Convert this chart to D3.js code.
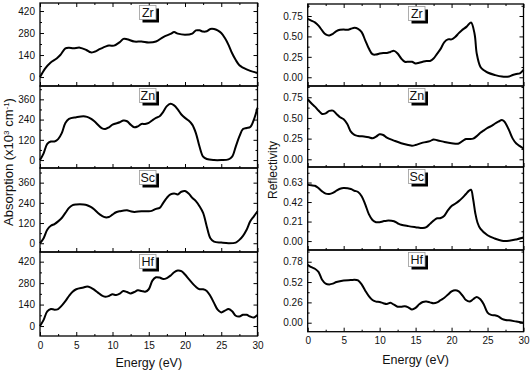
<!DOCTYPE html>
<html>
<head>
<meta charset="utf-8">
<script src="https://cdn.jsdelivr.net/npm/d3@7"></script>
<style>
  body { margin: 0; background: #fff; }
  text { font-family: Arial, "Liberation Sans", sans-serif; fill: #111; }
</style>
</head>
<body>
<svg id="chart" width="531" height="373"></svg>
<script>
// absorption (x10^3 cm^-1) vs energy (eV)
const zrAbs = [[0,0],[0.7,54],[1.4,90],[2.3,118],[2.8,140],[3.5,183],[4,187],[4.6,183],[5.5,187],[6.4,172],[7,157],[7.5,161],[8.3,179],[9.5,200],[10.2,200],[11,222],[11.5,243],[12,241],[13,226],[14,226],[15,220],[16,226],[17,254],[18,274],[18.5,286],[19,276],[20,269],[21,276],[21.5,297],[22,297],[22.5,289],[23,291],[23.5,306],[24,306],[24.5,297],[25,280],[25.5,248],[26,205],[26.5,151],[27,108],[27.5,75],[28,60],[29,39],[30,26]]
const znAbs = [[0,0],[0.5,40],[1,96],[1.5,110],[2,110],[2.5,124],[3,160],[3.5,220],[4,244],[5,254],[6,260],[6.5,256],[7,246],[7.5,230],[8.5,190],[9,184],[9.5,194],[10,210],[11,224],[11.5,234],[12,230],[12.5,210],[13,194],[13.5,200],[14,214],[14.5,214],[15,220],[15.5,236],[16,250],[16.5,260],[17,286],[17.5,320],[18,334],[18.5,324],[19,300],[19.5,270],[20,250],[20.5,234],[21,210],[21.5,160],[22,80],[22.5,20],[23,6],[24,0],[25,0],[26,4],[26.5,20],[27,80],[27.5,140],[28,184],[28.5,190],[29,196],[29.5,240],[30,310]]
const scAbs = [[0,0],[0.5,30],[1,80],[1.5,104],[2,114],[2.5,130],[3,150],[3.5,180],[4,210],[4.5,226],[5,230],[6,230],[6.5,226],[7,216],[7.5,200],[8,180],[8.5,164],[9,154],[9.5,156],[10,170],[10.5,184],[11,190],[12,196],[12.5,190],[13,186],[14,190],[15,190],[15.5,194],[16,204],[16.5,210],[17,240],[17.5,270],[18,290],[18.5,296],[19,290],[19.5,306],[20,310],[20.5,296],[21,270],[21.5,250],[22,220],[22.5,180],[23,100],[23.5,30],[24,10],[25,4],[26,0],[27,4],[27.5,20],[28,44],[28.5,80],[29,130],[29.5,160],[30,190]]
const hfAbs = [[0,0],[0.5,40],[1,96],[1.5,111],[2,107],[2.5,111],[3,133],[3.5,162],[4,196],[4.5,224],[5,240],[6,251],[6.5,258],[7,251],[7.5,236],[8,218],[8.5,200],[9,191],[9.5,196],[10,207],[10.5,202],[11,211],[11.5,229],[12,222],[12.5,213],[13,222],[13.5,233],[14,229],[14.5,224],[15,240],[15.5,296],[16,318],[16.5,316],[17,307],[17.5,313],[18,329],[18.5,351],[19,362],[19.5,358],[20,336],[20.5,307],[21,280],[21.5,256],[22,240],[22.5,240],[23,229],[23.5,196],[24,151],[24.5,107],[25,89],[25.5,100],[26,111],[26.5,96],[27,67],[27.5,62],[28,73],[28.5,73],[29,62],[29.5,56],[30,73]]

// reflectivity vs energy (eV)
const zrRef = [[0,0.714],[0.5,0.694],[1,0.673],[1.5,0.633],[2,0.573],[2.5,0.524],[3,0.512],[3.5,0.532],[4,0.565],[4.5,0.581],[5,0.585],[5.5,0.581],[6,0.593],[6.5,0.605],[7,0.593],[7.5,0.552],[8,0.452],[8.5,0.351],[9,0.282],[9.5,0.278],[10,0.29],[10.5,0.298],[11,0.298],[11.5,0.31],[12,0.323],[12.5,0.29],[13,0.23],[13.5,0.19],[14,0.19],[14.5,0.19],[15,0.169],[15.5,0.177],[16,0.19],[16.5,0.2],[17,0.2],[17.5,0.23],[18,0.29],[18.5,0.351],[19,0.431],[19.5,0.464],[20,0.464],[20.5,0.492],[21,0.54],[21.4,0.573],[22.1,0.62],[22.7,0.67],[23.2,0.53],[23.5,0.29],[24,0.13],[24.5,0.085],[25,0.058],[26,0.028],[27,0.008],[28,0.01],[28.5,0.028],[29,0.04],[29.5,0.048],[30,0.09]]
const znRef = [[0,0.726],[0.5,0.677],[1,0.637],[1.5,0.589],[2,0.548],[2.5,0.556],[3,0.585],[3.5,0.589],[4,0.548],[4.5,0.508],[5,0.484],[5.5,0.427],[6,0.335],[6.5,0.294],[7,0.282],[8,0.274],[8.5,0.266],[9,0.254],[9.5,0.274],[10,0.302],[10.5,0.294],[11,0.262],[12,0.226],[13,0.194],[14,0.173],[14.5,0.165],[15,0.173],[16,0.202],[17,0.22],[17.5,0.24],[18,0.23],[18.5,0.22],[19,0.21],[20,0.195],[21,0.19],[21.5,0.22],[22,0.245],[22.5,0.245],[23,0.25],[23.5,0.28],[24,0.32],[24.5,0.35],[25,0.38],[25.5,0.4],[26,0.43],[26.5,0.455],[27,0.475],[27.3,0.46],[27.6,0.42],[28,0.35],[28.5,0.25],[29,0.19],[29.5,0.16],[30,0.13]]
const scRef = [[0,0.605],[0.5,0.6],[1,0.595],[1.5,0.57],[2,0.535],[2.5,0.511],[3,0.507],[3.5,0.518],[4,0.542],[4.5,0.563],[5,0.57],[6,0.56],[6.5,0.542],[7,0.528],[7.5,0.483],[8,0.395],[8.5,0.29],[9,0.227],[9.5,0.203],[10,0.203],[10.5,0.213],[11,0.22],[12,0.213],[12.5,0.192],[13,0.175],[14,0.161],[15,0.15],[16,0.14],[16.5,0.15],[17,0.185],[17.5,0.22],[18,0.245],[18.5,0.248],[19,0.273],[19.5,0.332],[20,0.378],[20.5,0.402],[21,0.43],[21.5,0.465],[22,0.507],[22.4,0.54],[22.7,0.553],[23,0.45],[23.3,0.3],[23.6,0.2],[24,0.133],[25,0.063],[26,0.028],[27,0.004],[28,0.004],[29,0.018],[30,0.038]]
const hfRef = [[0,0.74],[0.5,0.71],[1,0.69],[1.5,0.65],[2,0.55],[2.5,0.5],[3,0.49],[3.5,0.5],[4,0.52],[5,0.54],[6,0.545],[6.5,0.55],[7,0.54],[7.5,0.49],[8,0.41],[8.5,0.34],[9,0.29],[9.5,0.27],[10,0.265],[10.5,0.25],[11,0.24],[11.5,0.255],[12,0.23],[12.5,0.205],[13,0.205],[13.5,0.21],[14,0.195],[14.5,0.17],[15,0.19],[15.5,0.235],[16,0.265],[16.5,0.27],[17,0.26],[17.5,0.25],[18,0.26],[18.5,0.29],[19,0.32],[19.5,0.36],[20,0.4],[20.5,0.415],[21,0.4],[21.5,0.35],[22,0.29],[22.5,0.27],[23,0.3],[23.5,0.33],[24,0.3],[24.5,0.23],[25,0.13],[25.5,0.1],[26,0.095],[26.5,0.08],[27,0.05],[27.5,0.035],[28,0.03],[29,0.015],[30,0]]

// tick labels
const energyTicks = [0, 5, 10, 15, 20, 25, 30]
const absTicks140 = [0, 140, 280, 420]
const absTicks120 = [0, 120, 240, 360]
const refTicks25 = [0, 0.25, 0.5, 0.75]
const refTicksSc = [0, 0.21, 0.42, 0.63]
const refTicksHf = [0, 0.26, 0.52, 0.78]
const elements = ['Zr', 'Zn', 'Sc', 'Hf']

const svg = d3.select('#chart')

function translation (x, y) {
  return 'translate(' + x + ',' + y + ')'
}

// minor ticks halfway between the major ones, inside the panel range
function midpoints (ticks, domain) {
  let step = (ticks[1] - ticks[0]) / 2
  let out = []
  for (let v = ticks[0] - step * 4; v <= domain[1]; v += step) {
    if (v >= domain[0] && ticks.every(t => Math.abs(t - v) > 1e-9)) out.push(v)
  }
  return out
}

function drawColumn (opts) {
  let x = d3.scaleLinear().domain([0, 30]).range([opts.left, opts.right])
  let xMinor = [2.5, 7.5, 12.5, 17.5, 22.5, 27.5]

  opts.panels.forEach(function (p, i) {
    let y = d3.scaleLinear().domain(p.domain).range([p.bottom, p.top])
    let g = svg.append('g')

    // curve
    let line = d3.line()
      .x(d => x(d[0]))
      .y(d => y(d[1]))
      .curve(d3.curveCatmullRom.alpha(0.5))
    g.append('path')
      .datum(p.data)
      .attr('d', line)
      .attr('fill', 'none')
      .attr('stroke', '#000')
      .attr('stroke-width', 2)
      .attr('stroke-linejoin', 'round')

    // y axis left, inward ticks
    let yAxis = d3.axisLeft(y).tickValues(p.ticks).tickSize(-4).tickSizeOuter(0)
      .tickPadding(5).tickFormat(opts.fmt)
    let ya = g.append('g').attr('transform', translation(opts.left, 0)).call(yAxis)
    ya.select('.domain').remove()
    ya.selectAll('text').style('font-size', '10px')
    let ym = g.append('g').attr('transform', translation(opts.left, 0))
      .call(d3.axisLeft(y).tickValues(midpoints(p.ticks, p.domain)).tickSize(-2).tickFormat(''))
    ym.select('.domain').remove()

    // mirror ticks on right edge
    let yr = g.append('g').attr('transform', translation(opts.right, 0))
      .call(d3.axisRight(y).tickValues(p.ticks).tickSize(-4).tickFormat(''))
    yr.select('.domain').remove()
    let yrm = g.append('g').attr('transform', translation(opts.right, 0))
      .call(d3.axisRight(y).tickValues(midpoints(p.ticks, p.domain)).tickSize(-2).tickFormat(''))
    yrm.select('.domain').remove()

    // x ticks at panel bottom (pointing up)
    let last = i === opts.panels.length - 1
    let xa = g.append('g').attr('transform', translation(0, p.bottom))
      .call(d3.axisBottom(x).tickValues(energyTicks).tickSize(-4).tickPadding(opts.xPad)
        .tickFormat(last ? d3.format('d') : ''))
    xa.select('.domain').remove()
    xa.selectAll('text').style('font-size', '10px')
    let xm = g.append('g').attr('transform', translation(0, p.bottom))
      .call(d3.axisBottom(x).tickValues(xMinor).tickSize(-2).tickFormat(''))
    xm.select('.domain').remove()

    if (i === 0) {
      let xt = g.append('g').attr('transform', translation(0, p.top))
        .call(d3.axisTop(x).tickValues(energyTicks).tickSize(-4).tickFormat(''))
      xt.select('.domain').remove()
      let xtm = g.append('g').attr('transform', translation(0, p.top))
        .call(d3.axisTop(x).tickValues(xMinor).tickSize(-2).tickFormat(''))
      xtm.select('.domain').remove()
    }

    g.selectAll('.tick line').attr('stroke', '#000').attr('stroke-width', 1)

    // frame
    g.append('rect')
      .attr('x', opts.left).attr('y', p.top)
      .attr('width', opts.right - opts.left).attr('height', p.bottom - p.top)
      .attr('fill', 'none').attr('stroke', '#000').attr('stroke-width', 1.3)

    // element label with drop shadow
    let lx = opts.labelX
    let ly = p.top + 2.5
    g.append('rect').attr('x', lx - 8 + 3).attr('y', ly + 3)
      .attr('width', 16.5).attr('height', 14).attr('fill', '#000')
    g.append('rect').attr('x', lx - 8).attr('y', ly)
      .attr('width', 16.5).attr('height', 14).attr('fill', '#fff')
      .attr('stroke', '#999').attr('stroke-width', 0.8)
    g.append('text').attr('x', lx + 0.3).attr('y', ly + 11.5)
      .attr('text-anchor', 'middle').style('font-size', '12.5px')
      .text(elements[i])
  })

  // x title
  svg.append('text')
    .attr('x', (opts.left + opts.right) / 2).attr('y', opts.xTitleY)
    .attr('text-anchor', 'middle').style('font-size', '12.5px')
    .text('Energy (eV)')
}

drawColumn({
  left: 40, right: 257.5, labelX: 147.5, xTitleY: 367, xPad: 6, fmt: d3.format('d'),
  panels: [
    { data: zrAbs, ticks: absTicks140, domain: [-57, 471], top: 3, bottom: 86 },
    { data: znAbs, ticks: absTicks120, domain: [-47, 439], top: 86, bottom: 168 },
    { data: scAbs, ticks: absTicks120, domain: [-52, 447], top: 168, bottom: 252 },
    { data: hfAbs, ticks: absTicks140, domain: [-65, 483], top: 252, bottom: 336 }
  ]
})

drawColumn({
  left: 307.7, right: 523.5, labelX: 416.5, xTitleY: 363.5, xPad: 5, fmt: d3.format('.2f'),
  panels: [
    { data: zrRef, ticks: refTicks25, domain: [-0.107, 0.897], top: 4, bottom: 86 },
    { data: znRef, ticks: refTicks25, domain: [-0.093, 0.886], top: 86, bottom: 167 },
    { data: scRef, ticks: refTicksSc, domain: [-0.096, 0.797], top: 167, bottom: 250 },
    { data: hfRef, ticks: refTicksHf, domain: [-0.115, 0.93], top: 250, bottom: 331.7 }
  ]
})

// y titles
let absTitle = svg.append('text')
  .attr('transform', translation(12.5, 162) + ' rotate(-90)')
  .attr('text-anchor', 'middle').style('font-size', '13px')
absTitle.append('tspan').text('Absorption (x10')
absTitle.append('tspan').attr('baseline-shift', 'super').style('font-size', '8px').text('3')
absTitle.append('tspan').text(' cm')
absTitle.append('tspan').attr('baseline-shift', 'super').style('font-size', '8px').text('-1')
absTitle.append('tspan').text(')')

svg.append('text')
  .attr('transform', translation(276.5, 170) + ' rotate(-90)')
  .attr('text-anchor', 'middle').style('font-size', '12px')
  .text('Reflectivity')
</script>
</body>
</html>
